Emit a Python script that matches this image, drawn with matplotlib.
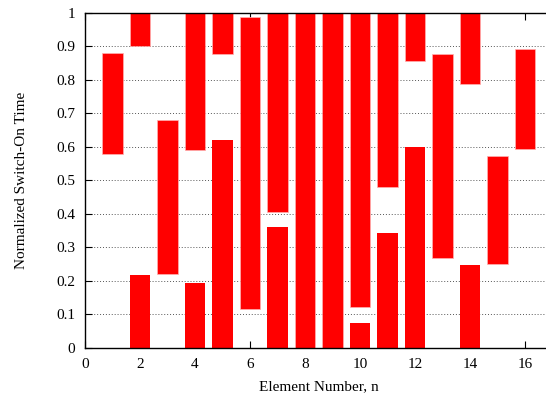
import numpy as np
import matplotlib
matplotlib.use("Agg")
import matplotlib.pyplot as plt

plt.rcParams['font.family'] = ['Liberation Serif', 'DejaVu Serif']

elements = np.arange(1, 17)
# first (upper) switch-on interval per element
start_a = np.array([0.579, 0.900, 0.220, 0.591, 0.876, 0.117, 0.405, 0.0,
                    0.0, 0.121, 0.479, 0.854, 0.268, 0.788, 0.250, 0.592])
end_a = np.array([0.878, 1.0, 0.681, 1.0, 1.0, 0.986, 1.0, 1.0,
                  1.0, 1.0, 1.0, 1.0, 0.876, 1.0, 0.573, 0.890])
# second (lower, wrapped) switch-on interval per element
start_b = np.zeros(16)
end_b = np.array([0.0, 0.219, 0.0, 0.195, 0.620, 0.0, 0.361, 0.0,
                  0.0, 0.076, 0.344, 0.599, 0.0, 0.246, 0.0, 0.0])

xticks = [0, 2, 4, 6, 8, 10, 12, 14, 16]
yticks = [0, 0.1, 0.2, 0.3, 0.4, 0.5, 0.6, 0.7, 0.8, 0.9, 1]
ytick_labels = ['0', '0.1', '0.2', '0.3', '0.4', '0.5', '0.6', '0.7', '0.8', '0.9', '1']

W, H = 546, 403
fig = plt.figure(figsize=(W / 100, H / 100), dpi=100)
left = 85 / W
bottom = 1 - 348 / H
width = (17 * 27.5) / W
height = 335.5 / H
ax = fig.add_axes([left, bottom, width, height])

ax.set_axisbelow(True)
ax.yaxis.grid(True, linestyle=(0, (1, 2)), color='#555555', linewidth=0.7)

ax.bar(elements, end_a - start_a, bottom=start_a, width=0.74,
       color='#ff0000', edgecolor='#ffb0b0', linewidth=0.5, zorder=2)
ax.bar(elements, end_b - start_b, bottom=start_b, width=0.74,
       color='#ff0000', edgecolor='none', linewidth=0, zorder=2)

ax.set_xlim(0, 17)
ax.set_ylim(0, 1)
ax.set_xticks(xticks)
ax.set_xticklabels([str(t) for t in xticks])
ax.set_yticks(yticks)
ax.set_yticklabels(ytick_labels)
ax.tick_params(direction='in', length=5, width=0.8, top=True, right=True,
               labelsize=11, colors='black', pad=7)

for s in ax.spines.values():
    s.set_linewidth(1.0)

ax.set_xlabel('Element Number, n', fontsize=11, labelpad=7)
ax.set_ylabel('Normalized Switch-On Time', fontsize=11, labelpad=20)

fig.savefig('out.png', dpi=100)
